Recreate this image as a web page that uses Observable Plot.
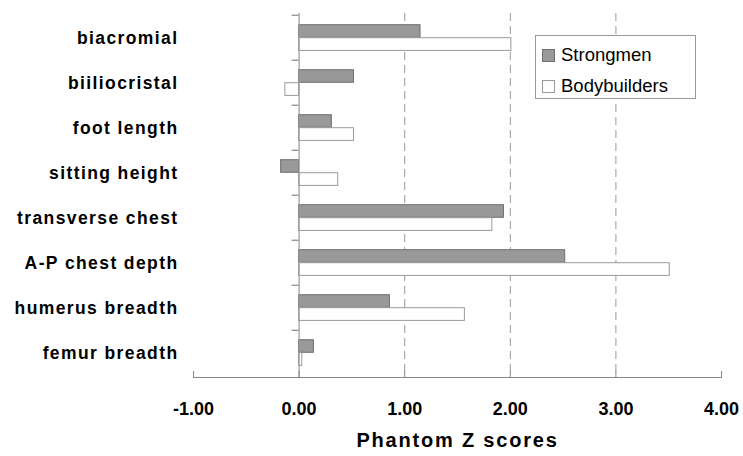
<!DOCTYPE html>
<html>
<head>
<meta charset="utf-8">
<script src="https://cdn.jsdelivr.net/npm/d3@7"></script>
<script src="https://cdn.jsdelivr.net/npm/@observablehq/plot@0.6"></script>
<style>
  body { margin: 0; background: #fff; }
  #wrap { position: relative; width: 743px; height: 456px; font-family: "Liberation Sans", Arial, sans-serif; }
  #legend { position: absolute; left: 535px; top: 35px; width: 161px; height: 64px; border: 1px solid #999; background: #fff; box-sizing: border-box; }
  .sw { position: absolute; left: 6px; width: 13px; height: 13px; box-sizing: border-box; }
  .lt { position: absolute; left: 25px; font-size: 18.5px; line-height: 18.5px; color: #000; white-space: nowrap; }
  #wrap svg g[aria-label="y-axis tick label"] text { letter-spacing: 1.4px; }
  #wrap svg g.title text { letter-spacing: 1.8px; }
</style>
</head>
<body>
<div id="wrap"></div>
<script>
const categories = ["biacromial", "biiliocristal", "foot length", "sitting height", "transverse chest", "A-P chest depth", "humerus breadth", "femur breadth"];
const strongmen = [1.15, 0.52, 0.31, -0.17, 1.94, 2.52, 0.86, 0.14];
const bodybuilders = [2.01, -0.13, 0.52, 0.37, 1.83, 3.51, 1.57, 0.03];
const xTicks = [-1, 0, 1, 2, 3, 4];
const gridTicks = [1, 2, 3];
const seriesNames = ["Strongmen", "Bodybuilders"];

const sData = categories.map((c, i) => ({cat: c, v: strongmen[i]}));
const bData = categories.map((c, i) => ({cat: c, v: bodybuilders[i]}));

const W = 743, H = 456, mT = 13, mB = 79, mL = 193, mR = 22;
const bw = (H - mT - mB) / categories.length;
const font = "'Liberation Sans', Arial, sans-serif";

const plot = Plot.plot({
  width: W, height: H,
  marginTop: mT, marginBottom: mB, marginLeft: mL, marginRight: mR,
  style: {fontFamily: font, background: "#fff", overflow: "visible"},
  x: {domain: [-1, 4]},
  y: {domain: categories, padding: 0},
  marks: [
    Plot.ruleX(gridTicks, {stroke: "#999", strokeWidth: 1, strokeDasharray: "8,5"}),
    Plot.barX(sData, {y: "cat", x: "v", insetTop: 9.7, insetBottom: 22.7, fill: "#999999", stroke: "#6f6f6f", strokeWidth: 1}),
    Plot.barX(bData, {y: "cat", x: "v", insetTop: 22.7, insetBottom: 9.6, fill: "#ffffff", stroke: "#9a9a9a", strokeWidth: 1}),
    Plot.ruleX([0], {stroke: "#999", strokeWidth: 1.2}),
    Plot.ruleY(categories, {y: d => d, x1: -0.066, x2: 0, dy: -bw / 2, stroke: "#888", strokeWidth: 1.2}),
    Plot.frame({anchor: "bottom", stroke: "#888", strokeWidth: 1.2}),
    Plot.axisX({ticks: xTicks, tickFormat: d => d.toFixed(2), tickSize: -6, tickPadding: 31, stroke: "#888", fontSize: 18, fontWeight: "bold", label: null, fill: "#000"}),
    Plot.axisY({tickSize: 0, tickPadding: 15, fontSize: 17.5, fontWeight: "bold", label: null, fill: "#000"}),
    Plot.text(["Phantom Z scores"], {frameAnchor: "bottom", dy: 69.5, fontSize: 20, fontWeight: "bold", fill: "#000", className: "title"})
  ]
});

const wrap = document.getElementById("wrap");
wrap.appendChild(plot);

const legend = document.createElement("div");
legend.id = "legend";
const sw1 = document.createElement("div");
sw1.className = "sw"; sw1.style.top = "13px"; sw1.style.background = "#999"; sw1.style.border = "1px solid #6f6f6f";
const t1 = document.createElement("div");
t1.className = "lt"; t1.style.top = "10px"; t1.textContent = seriesNames[0];
const sw2 = document.createElement("div");
sw2.className = "sw"; sw2.style.top = "44px"; sw2.style.background = "#fff"; sw2.style.border = "1px solid #9a9a9a";
const t2 = document.createElement("div");
t2.className = "lt"; t2.style.top = "41px"; t2.textContent = seriesNames[1];
legend.append(sw1, t1, sw2, t2);
wrap.appendChild(legend);
</script>
</body>
</html>
